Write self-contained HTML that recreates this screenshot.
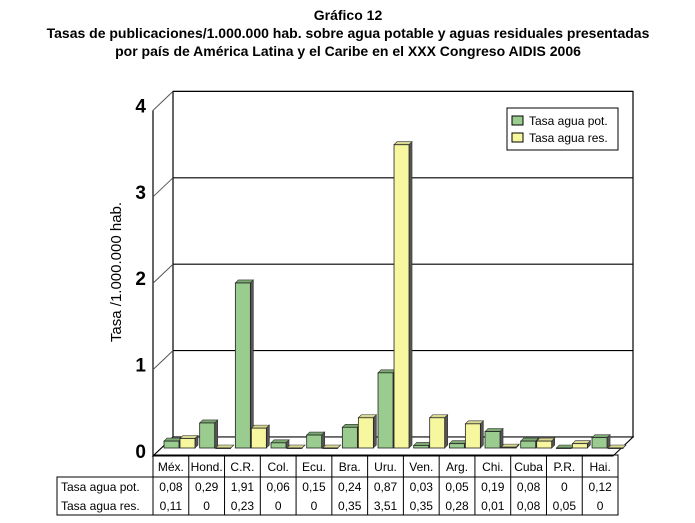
<!DOCTYPE html>
<html><head><meta charset="utf-8"><style>
body{margin:0;background:#fff;}
svg{display:block;font-family:"Liberation Sans",Arial,sans-serif;}
</style></head><body>
<svg id="c" width="695" height="523" viewBox="0 0 695 523">
<g font-weight="bold" font-size="14" text-anchor="middle">
<text x="348" y="20">Gráfico 12</text>
<text x="348" y="38">Tasas de publicaciones/1.000.000 hab. sobre agua potable y aguas residuales presentadas</text>
<text x="348" y="56">por país de América Latina y el Caribe en el XXX Congreso AIDIS 2006</text>
</g>
<text font-size="15" transform="translate(121,272) rotate(-90)" text-anchor="middle">Tasa /1.000.000 hab.</text>
<g id="grid"></g><g id="bars"></g><g id="table"></g>
<g>
<rect x="507" y="108" width="111" height="42" fill="#fff" stroke="#000"/>
<rect x="512" y="116" width="11" height="9" fill="#99cc8e" stroke="#000"/>
<text x="529" y="125" font-size="12">Tasa agua pot.</text>
<rect x="512" y="133" width="11" height="9" fill="#f7f7a0" stroke="#000"/>
<text x="529" y="142" font-size="12">Tasa agua res.</text>
</g>
</svg>
<script>
const categories=["Méx.","Hond.","C.R.","Col.","Ecu.","Bra.","Uru.","Ven.","Arg.","Chi.","Cuba","P.R.","Hai."];
const potValues=[0.08,0.29,1.91,0.06,0.15,0.24,0.87,0.03,0.05,0.19,0.08,0,0.12];
const resValues=[0.11,0,0.23,0,0,0.35,3.51,0.35,0.28,0.01,0.08,0.05,0];
const potLabels=["0,08","0,29","1,91","0,06","0,15","0,24","0,87","0,03","0,05","0,19","0,08","0","0,12"];
const resLabels=["0,11","0","0,23","0","0","0,35","3,51","0,35","0,28","0,01","0,08","0,05","0"];
const yTicks=[0,1,2,3,4];
const NS="http://www.w3.org/2000/svg";
function mk(t,a,p){const e=document.createElementNS(NS,t);for(const k in a)e.setAttribute(k,a[k]);p.appendChild(e);return e;}
const FX0=153,FY0=456,DX=20,DY=-19,W=460,U=86.4;
const yBack=v=>FY0+DY-v*U, yFront=v=>FY0-v*U, yBar=v=>448-v*U;
const xCat=i=>164+i*35.67;
const g=document.getElementById('grid');
mk('rect',{x:FX0+DX,y:yBack(4),width:W,height:4*U,fill:'#fff',stroke:'#000','stroke-width':1.2},g);
mk('line',{x1:FX0,y1:yFront(4),x2:FX0,y2:FY0,stroke:'#000','stroke-width':1.2},g);
yTicks.forEach(v=>{
 const gl=mk('line',{x1:FX0+DX,y1:yBack(v),x2:FX0+DX+W,y2:yBack(v),stroke:'#000','stroke-width':1.1},g);
 
 
 mk('line',{x1:FX0,y1:yFront(v),x2:FX0+DX,y2:yBack(v),stroke:'#555'},g);
 const t=mk('text',{x:146,y:yFront(v)+2,'font-size':19,'font-weight':'bold','text-anchor':'end'},g);
 t.textContent=v;
 
 
});
mk('polygon',{points:`${FX0},${FY0} ${FX0+W},${FY0} ${FX0+W+DX},${FY0+DY} ${FX0+DX},${FY0+DY}`,fill:'#fff',stroke:'#000','stroke-width':1.1},g);
const b=document.getElementById('bars');
function bar(x,v,fill,side,name){
 const h=v*U,y=yBar(v),w=15,d=3;
 const grp=mk('g',{},b);
 
 
 mk('polygon',{points:`${x},${y} ${x+d},${y-d} ${x+w+d},${y-d} ${x+w},${y}`,fill:side,stroke:'#333','stroke-width':0.6},grp);
 mk('polygon',{points:`${x+w},${y} ${x+w+d},${y-d} ${x+w+d},${448-d} ${x+w},448`,fill:'#555',stroke:'#333','stroke-width':0.6},grp);
 mk('rect',{x:x,y:y,width:w,height:Math.max(h,0.5),fill:fill,stroke:'#222','stroke-width':0.8},grp);
}
categories.forEach((c,i)=>{
 bar(xCat(i),potValues[i],'#99cc8e','#7aa870','bar-pot-'+i);
 bar(xCat(i)+16,resValues[i],'#f7f7a0','#d8d890','bar-res-'+i);
});
const tb=document.getElementById('table');
const cols=13,cx0=153,cw=35.77,rows=[455,477,496,515];
mk('rect',{x:cx0,y:rows[0],width:cols*cw,height:rows[3]-rows[0],fill:'none',stroke:'#000'},tb);
mk('rect',{x:57,y:rows[1],width:cx0-57,height:rows[3]-rows[1],fill:'none',stroke:'#000'},tb);
mk('line',{x1:57,y1:rows[1],x2:cx0+cols*cw,y2:rows[1],stroke:'#000'},tb);
for(let i=1;i<cols;i++)mk('line',{x1:cx0+i*cw,y1:rows[0],x2:cx0+i*cw,y2:rows[3],stroke:'#000'},tb);
[["Tasa agua pot.",1],["Tasa agua res.",2]].forEach(([s,r])=>{
 const t=mk('text',{x:61,y:rows[r]+14,'font-size':12},tb);
 t.textContent=s;
 
 
});
categories.forEach((c,i)=>{
 const cxm=cx0+i*cw+cw/2;
 [[c,0],[potLabels[i],1],[resLabels[i],2]].forEach(([s,r])=>{
  const t=mk('text',{x:cxm,y:rows[r]+(r==0?16:14),'font-size':12,'text-anchor':'middle'},tb);
  t.textContent=s;
  
  
 });
});
</script>
</body></html>
